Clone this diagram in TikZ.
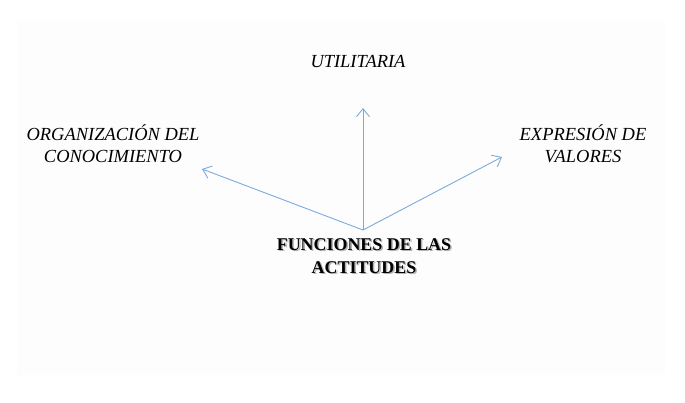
\documentclass[tikz,border=0pt]{standalone}
\usepackage{fontspec}
\setmainfont{Liberation Serif}
\usepackage{tikz}
\usepackage{xcolor}
\usetikzlibrary{arrows.meta}
\definecolor{arrowblue}{RGB}{120,170,222}
\definecolor{paper}{RGB}{253,253,253}

\begin{document}
\begin{tikzpicture}[>={Straight Barb[length=1.6mm,width=2.6mm]},
    label/.style={align=center, font=\fontsize{10.5}{12.6}\selectfont\itshape, inner sep=1pt},
    title/.style={align=center, font=\fontsize{10.2}{13}\selectfont\bfseries, inner sep=1pt},
    link/.style={->, arrowblue, line width=0.5pt}]
    % Canvas
    \useasboundingbox (0,0) rectangle (13.7,8.04);
    \fill[paper] (0.34,0.54) rectangle (13.3,7.66);

    % Labels
    \node[label] (utilitaria) at (7.16,6.82) {UTILITARIA};
    \node[label] (organizacion) at (2.26,5.16) {ORGANIZACIÓN DEL\\CONOCIMIENTO};
    \node[label] (expresion) at (11.66,5.16) {EXPRESIÓN DE\\VALORES};

    % Central title with its shadow
    \node[title, gray!60] (funcshadow) at (7.31,2.89) {FUNCIONES DE LAS\\ACTITUDES};
    \node[title] (funciones) at (7.28,2.92) {FUNCIONES DE LAS\\ACTITUDES};

    % Arrows
    \coordinate (hub) at (7.26,3.44);
    \coordinate (tipup) at (7.26,5.88);
    \coordinate (tipleft) at (4.04,4.66);
    \coordinate (tipright) at (10.04,4.90);
    \draw[link] (hub) -- (tipup);
    \draw[link] (hub) -- (tipleft);
    \draw[link] (hub) -- (tipright);
\end{tikzpicture}
\end{document}
